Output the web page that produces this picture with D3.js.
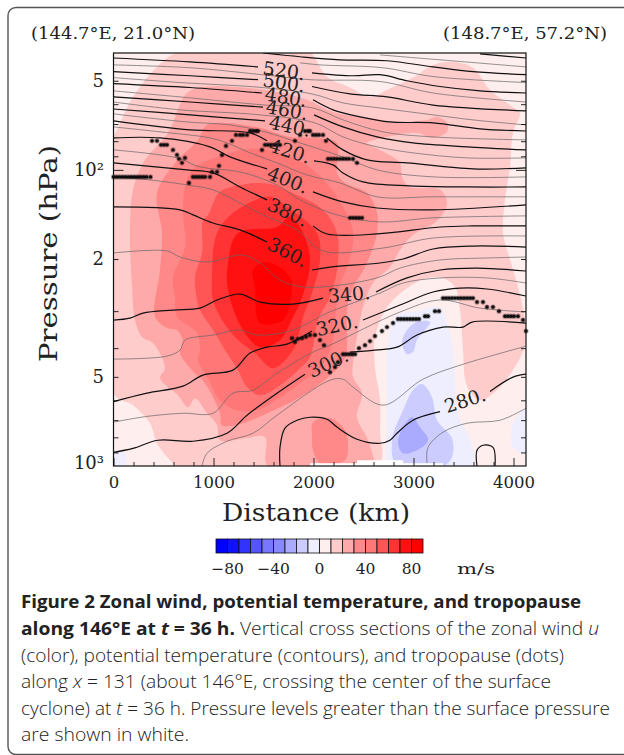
<!DOCTYPE html>
<html>
<head>
<meta charset="utf-8">
<script src="https://cdn.jsdelivr.net/npm/d3@7"></script>
<style>
body { margin: 0; background: white; }
svg { display: block; }
text { fill: #222; }
.mono { font-family: "DejaVu Serif", serif; }
.caption { font-family: "Open Sans", sans-serif; font-size: 18.5px; fill: #222; }
</style>
</head>
<body>
<div id="chart"></div>
<script>
// all points are [distance km, pressure hPa]
const colorLevels = [-90, -80, -70, -60, -50, -40, -30, -20, -10, 0, 10, 20, 30, 40, 50, 60, 70, 80, 90];
const colorCells = ["#0000ff", "#1111ff", "#3333ff", "#5555ff", "#7777ff", "#8888ff", "#aaaaff", "#ccccff", "#eeeeff",
    "#ffeeee", "#ffcccc", "#ffaaaa", "#ff8888", "#ff7777", "#ff5555", "#ff3333", "#ff1111", "#ff0000"];
const colorTicks = [-80, -40, 0, 40, 80];
const xTicks = [0, 1000, 2000, 3000, 4000];
const xMinor = [200, 400, 600, 800, 1200, 1400, 1600, 1800, 2200, 2400, 2600, 2800, 3200, 3400, 3600, 3800];
const yMinor = [50, 60, 70, 80, 90, 200, 300, 400, 500, 600, 700, 800, 900];
const yLabels = new Map([[50, "5"], [100, "10²"], [200, "2"], [500, "5"], [1000, "10³"]]);

const band10 = [[635,40.3],[435,44.9],[195,56.7],[35,73.3],[0,77.4],[0,567.6],[195,623],[365,717],[435,838],[595,978],[635,1000],[2645,1000],[2665,757],[2665,599],[2615,464],[2615,367],[2735,291],[2935,251],[3135,232],[3295,232],[3415,249],[3465,297],[3495,406],[3535,537],[3665,599],[3835,554],[3995,474],[4115,391],[4125,340],[4035,241],[3935,186],[3895,163],[3915,126],[3965,97.7],[3995,75],[4065,64.2],[3995,61.4],[3765,53.7],[3595,45.2],[3395,43.2],[3195,44.2],[2995,48.8],[2735,53.7],[2565,56.7],[2365,52.7],[2135,48.4],[1995,40.9],[1965,40.3]];
const band20 = [[735,55],[935,52.3],[1295,52.7],[1635,54.6],[1935,58],[2195,63.7],[2535,66.7],[2835,68.9],[3135,67.8],[3235,66.2],[3335,69.4],[3335,74.4],[3195,78],[3035,75],[2695,78],[2535,81.1],[2665,85.6],[2865,94.7],[2885,105.6],[2965,114.2],[3265,116.8],[3335,129.3],[3245,147.6],[2995,165.9],[2865,186.4],[2765,212.9],[2595,241],[2495,290.6],[2435,367],[2395,449],[2395,501],[2485,567.6],[2435,684.5],[2545,818.5],[2585,1000],[1545,1000],[1515,799],[1315,806],[1065,818.5],[1035,728],[935,663.5],[815,590],[745,633],[645,576.5],[465,505],[515,467.8],[395,384.6],[285,367],[215,321.5],[185,248.7],[165,163.3],[195,116.8],[315,92.5],[545,75]];
const band30 = [[435,119.5],[615,94.7],[845,79.2],[935,70.5],[1435,71.6],[1765,77.4],[1995,78],[2235,81.1],[2235,102.4],[2315,110.7],[2535,119.5],[2635,139.7],[2635,163.3],[2585,186.4],[2515,212.9],[2385,254.5],[2335,297.4],[2335,361.3],[2315,432],[2135,505],[1865,585.6],[1535,663.5],[1295,717],[1085,728],[1065,663.5],[915,525],[785,474.5],[665,415.7],[695,381],[635,347.5],[535,342],[415,313],[465,217.8],[485,163.3]];
const band30Island = [[1995,711],[2165,689],[2315,757],[2345,885],[2315,956],[2065,978],[1995,885],[1985,787]];
const band40 = [[715,114.2],[785,100],[915,93.9],[1295,85.6],[1535,85.6],[1835,92.5],[1995,100],[2165,114.2],[2295,133.4],[2385,155.9],[2395,176.5],[2335,212.9],[2265,244.9],[2215,321.5],[2185,390.7],[2065,467.8],[1865,525],[1665,585.6],[1435,648],[1235,648],[1065,599.4],[945,505],[845,439],[865,406.1],[835,355.7],[635,313],[615,268.7],[595,229.9],[715,182.2],[695,139.7]];
const band50 = [[945,141.9],[1065,118.6],[1335,111.5],[1565,111.5],[1765,118.6],[2095,136.5],[2235,163.3],[2235,217.8],[2165,268.9],[2045,321.5],[1965,429],[1865,467.8],[1695,525],[1465,576.5],[1335,541.5],[1245,474.5],[1115,406.1],[1015,355.7],[865,297.4],[835,275.1],[815,229.9],[885,190.8],[895,147.6]];
const band60 = [[985,235.4],[1035,163.3],[1235,136.5],[1565,123.3],[1735,133.4],[2035,163.3],[2065,201.5],[1985,260.5],[1895,314],[1865,347.5],[1795,406.1],[1595,467.8],[1415,415.7],[1245,375.7],[1085,321.5],[995,275.1]];
const band70 = [[1145,206.3],[1245,163.3],[1635,155.9],[1765,144.1],[1895,163.3],[1965,206.3],[1865,281.7],[1795,314],[1665,375.7],[1465,396.9],[1295,347.5],[1145,254.5]];
const band80 = [[1395,217.8],[1515,204.7],[1765,229.9],[1765,281.7],[1695,321.5],[1465,329.1],[1415,248.7]];
const bandNeg0 = [[2835,309.3],[2995,302],[3265,293],[3345,339.6],[3395,406],[3415,525],[3445,663.5],[3565,818.5],[3595,1000],[2765,1000],[2735,757],[2735,525],[2745,384.6]];
const bandNeg0Right = [[4125,638],[3995,717],[3995,865],[4125,906]];
const bandNeg0Corner = [[0,906],[115,906],[115,1000],[0,1000]];
const bandNeg10Upper = [[3165,326.6],[3035,375.7],[2995,412.5],[2935,419],[2885,384.6],[2935,347.5],[3035,326.6]];
const bandNeg10Lower = [[3085,529],[3185,585.6],[3235,700.5],[3385,806],[3385,934],[3295,1000],[2835,1000],[2785,818.5],[2895,648],[2995,554.5]];
const bandNeg20 = [[2985,684.5],[3065,739],[3145,818.5],[3035,885],[2895,906],[2845,838],[2895,739]];
const surfaceGround = [[1965,1000],[1965,978],[2435,978],[2435,956],[2895,956],[2895,978],[3295,978],[3295,1000]];

// labelled isentropes, broken where the label sits
const thick = [
    [[3665,40.6],[4125,41.9]],
    [[1495,40.3],[1865,41.5],[2265,42.5],[2735,42.8],[3195,44.9],[3595,46.6],[4125,47.7]],
    [[0,41.9],[765,43.2],[1445,44.9]],
    [[1985,47],[2395,48.1],[2665,47.7],[2935,50],[3265,52.3],[3665,54.1],[4125,55]],
    [[0,46.6],[765,48.1],[1445,49.6]],
    [[1985,52.3],[2365,55.4],[2735,56.7],[3195,60.4],[4125,63.2]],
    [[0,51.1],[765,52.7],[1485,55]],
    [[1995,58],[2195,62.7],[2465,66.2],[2765,68.9],[3195,69.4],[3665,72.7],[4125,73.9]],
    [[0,56.7],[765,59],[1495,61.4]],
    [[2005,65.2],[2295,71.6],[2635,77.4],[2995,81.1],[3535,83.6],[4125,85.6]],
    [[0,62.3],[765,65.2],[1515,68.3]],
    [[2135,78],[2295,85.6],[2535,92.5],[2935,94.7],[3595,99.2],[4125,98.4]],
    [[0,68.3],[765,73.3],[1365,75],[1535,79.8]],
    [[2005,93.2],[2195,96.2],[2295,102.4],[2495,109.8],[2965,113.3],[3535,114.2],[4125,114.2]],
    [[0,78],[465,78],[965,83.6],[1165,90.4],[1535,99.2]],
    [[1995,118.6],[2295,128.3],[2635,134.5],[3195,136.5],[4125,131.3]],
    [[0,94.7],[735,100],[995,102.4],[1265,114.2],[1535,126.3]],
    [[1995,154.6],[2135,164.6],[2635,164.6],[3265,155.9],[3595,154.6],[4125,154.6]],
    [[0,133.4],[665,136.5],[795,141.9],[995,151.1],[1265,159.5],[1535,175.1]],
    [[1985,217.8],[2165,212.9],[2665,206.3],[2895,200],[3195,185],[3595,180.8],[4125,182.2]],
    [[0,321.5],[165,316.6],[295,304.5],[595,297.4],[865,292.9],[1035,275.1],[1265,262.6],[1465,279.5],[1795,283.9],[2095,271]],
    [[2625,258.5],[2935,231.7],[3265,217.8],[3635,214.6],[4125,219.5]],
    [[0,606],[335,567.6],[695,537.5],[895,493.4],[1195,474.5],[1365,415.7],[1535,396.9],[1735,387.6],[1985,350.2]],
    [[2495,321.5],[2865,286.1],[3195,258.5],[3465,250.7],[3735,252.5],[4125,266.7]],
    [[0,899],[195,872],[445,818.5],[795,825],[1135,775],[1335,674],[1635,567.6],[1915,489.6]],
    [[2365,412.5],[2615,406.1],[2835,396.9],[3035,361.3],[3295,339.6],[3495,339.6],[3585,326.6],[4125,329.1]],
    [[1665,1000],[1665,865],[1715,745],[1835,700.5],[1965,684.5],[2135,695],[2235,739],[2435,812],[2665,838],[2765,818.5],[2835,775],[2995,700.5],[3265,655.5]],
    [[3765,560],[3995,501],[4125,489.6]],
    [[3635,1000],[3635,885],[3695,851],[3795,865],[3815,1000]]
];
const thin = [
    [[2665,40.9],[3265,42.5],[4125,44.9]],
    [[1865,43.5],[2065,44.2],[2695,45.2],[3195,48.4],[4125,50.7]],
    [[0,44.2],[765,45.2],[1485,47.7],[1965,49.6],[2665,50.3],[3195,55],[4125,59]],
    [[0,48.8],[665,50.7],[1485,52.7],[1985,55.4],[2295,59.4],[2665,61.8],[3195,65.2],[3595,67.8],[4125,70.5]],
    [[0,54.1],[665,56.7],[1515,60.4],[1995,61.8],[2295,67.8],[2695,74.4],[3195,77.4],[4125,79.2]],
    [[0,59],[665,62.7],[1465,65.2],[2015,69.4],[2295,77.4],[2635,83.6],[2995,87.6],[3535,91.1],[4125,91.1]],
    [[0,64.7],[735,68.9],[1165,70.5],[1515,74.4],[1865,81.1],[2295,90.4],[2635,100],[3195,105.6],[4125,105.6]],
    [[0,71.6],[465,74.4],[965,78],[1135,81.1],[1365,87.6],[1635,94.7],[1935,104],[2265,110.7],[2635,123.3],[3195,123.3],[4125,123.3]],
    [[0,85.6],[635,91.1],[865,97.7],[1265,101.6],[1635,112.4],[1865,126.3],[2235,141.9],[2665,149.9],[3195,145.2],[4125,143]],
    [[0,105.6],[365,108.1],[735,112.4],[995,116.8],[1265,129.3],[1495,141.9],[1835,159.5],[2095,187.8],[2695,183.6],[3195,169.9],[4125,167.2]],
    [[0,190.8],[535,187.8],[665,196.9],[935,204.7],[1295,193.8],[1465,206.3],[1665,235.4],[1895,248.7],[2265,244.9],[2665,229.9],[2865,214.6],[3265,201.5],[3735,198.4],[4125,196.9]],
    [[0,435.5],[535,425.5],[665,406.1],[715,375.7],[995,361.3],[1265,347.5],[1435,361.3],[1795,347.5],[2135,304.5],[2665,260.5],[2895,241],[3265,231.7],[3735,231.7],[4125,241]],
    [[0,711],[335,680],[695,663.5],[995,663.5],[1195,567.6],[1395,554.5],[1635,486],[1995,412.5],[2165,390.7],[2865,302],[3265,275],[3665,293],[4125,302]],
    [[885,1000],[935,906],[1135,825],[1395,775],[1635,674],[2165,513],[2295,509],[2395,541],[2695,623],[3095,509],[3465,456.7],[4125,394]],
    [[3135,978],[3145,865],[3295,769],[3535,717],[3865,700.5],[4125,638]]
];

const labelText = ["520.", "500.", "480.", "460.", "440.", "420.", "400.", "380.", "360.", "340.", "320.", "300.", "280."];
const labelKm = [1705, 1705, 1725, 1735, 1765, 1765, 1745, 1745, 1745, 2355, 2235, 2145, 3515];
const labelHpa = [46.2, 50.7, 56.7, 62.7, 71, 86.3, 108, 138.8, 189.3, 262.6, 334.3, 449, 599];
const labelAngle = [8, 8, 9, 10, 12, 18, 22, 25, 27, -5, -12, -25, -18];

const tropopause = [
    [0,105.6],[30,105.6],[60,105.6],[90,105.6],[120,105.6],[150,105.6],[180,105.6],[210,105.6],[240,105.6],[270,105.6],[300,105.6],[330,105.6],[370,105.6],
    [385,79.8],[435,79.8],[475,82.3],[505,82.3],[535,82.3],[595,85.6],[635,89],[655,91.8],[685,94.7],[715,91.1],
    [755,110.7],[795,105.6],[825,105.6],[855,105.6],[885,105.6],[915,105.6],[965,105.6],[985,101.6],[1035,101.6],[1055,96.9],[1085,89],[1125,83],[1185,79.8],
    [1225,76.2],[1265,76.2],[1295,76.2],[1335,76.2],[1365,73.9],[1395,73.9],[1425,73.9],[1445,73.9],
    [1485,85.6],[1515,82.3],[1545,82.3],[1575,82.3],[1605,82.3],[1635,82.3],[1665,82.3],
    [1815,79.8],[1865,76.2],[1915,73.9],[1945,73.9],[1965,73.9],[1995,76.2],[2025,76.2],[2055,76.2],[2095,76.2],[2125,79.8],
    [2145,91.8],[2175,91.8],[2205,91.8],[2235,91.8],[2265,91.8],[2295,91.8],[2325,91.8],[2355,91.8],[2395,91.8],[2435,94.7],
    [2365,145.2],[2395,145.2],[2425,145.2],[2455,145.2],[2485,145.2],
    [1785,370],[1815,381],[1845,372],[1885,370],[1925,366],[1965,361.3],[2015,361.3],[2065,375.7],[2105,390.7],
    [2165,482],[2215,463],[2245,446],[2295,419],[2325,419],[2355,419],[2385,419],[2415,419],[2455,400],[2515,390.7],[2565,378.6],[2615,364],[2685,350.2],[2735,339.6],[2795,329.1],
    [2845,319],[2875,319],[2905,319],[2935,319],[2965,319],[2995,319],[3025,319],[3055,319],[3115,312],[3145,312],[3215,300],[3255,300],
    [3295,271],[3325,271],[3355,271],[3385,271],[3415,271],[3445,271],[3475,271],[3505,271],[3535,271],[3565,271],[3595,271],
    [3635,279.5],[3695,279.5],[3735,290.6],[3795,290.6],[3855,300],[3915,312],[3945,312],[3975,312],[4005,312],[4045,312],[4095,321.5],[4125,350]
];

const svg = d3.select('#chart').append('svg')
    .attr('width', 624)
    .attr('height', 755);

// rounded panel border, runs off the page on the right
svg.append("rect")
    .attr("x", 8).attr("y", 7.5)
    .attr("width", 700).attr("height", 747)
    .attr("rx", 8)
    .attr("fill", "none")
    .attr("stroke", "#555")
    .attr("stroke-width", 1.4);

const xScale = d3.scaleLinear().domain([0, 4125]).range([113.5, 526]);
const yScale = d3.scaleLog().domain([1000, 40.3]).range([466, 53]);

const band = d3.line().x(d => xScale(d[0])).y(d => yScale(d[1])).curve(d3.curveCatmullRomClosed.alpha(0.5));
const contour = d3.line().x(d => xScale(d[0])).y(d => yScale(d[1])).curve(d3.curveCatmullRom.alpha(0.5));
const flat = d3.line().x(d => xScale(d[0])).y(d => yScale(d[1]));

svg.append("clipPath").attr("id", "plot-clip")
    .append("rect")
    .attr("x", xScale(0)).attr("y", yScale(40.3))
    .attr("width", xScale(4125) - xScale(0)).attr("height", yScale(1000) - yScale(40.3));

const g = svg.append("g").attr("clip-path", "url(#plot-clip)");

g.append("rect")
    .attr("x", xScale(0)).attr("y", yScale(40.3))
    .attr("width", xScale(4125) - xScale(0)).attr("height", yScale(1000) - yScale(40.3))
    .attr("fill", colorCells[9]);

const fills = [
    [band10, 10], [band20, 11], [band30, 12], [band30Island, 12], [band40, 13], [band50, 14], [band60, 15], [band70, 16], [band80, 17],
    [bandNeg0, 8], [bandNeg0Right, 8], [bandNeg0Corner, 8], [bandNeg10Upper, 7], [bandNeg10Lower, 7], [bandNeg20, 6]
];
g.selectAll(".band").data(fills).enter().append("path")
    .attr("class", "band")
    .attr("d", d => band(d[0]))
    .attr("fill", d => colorCells[d[1]]);

// below ground
g.append("path").attr("d", flat(surfaceGround)).attr("fill", "white");

g.selectAll(".thin").data(thin).enter().append("path")
    .attr("class", "thin")
    .attr("d", contour)
    .attr("fill", "none")
    .attr("stroke", "#666")
    .attr("stroke-width", 0.7);

g.selectAll(".thick").data(thick).enter().append("path")
    .attr("class", "thick")
    .attr("d", contour)
    .attr("fill", "none")
    .attr("stroke", "#111")
    .attr("stroke-width", 1.2);

// tropopause dots
svg.selectAll(".tropo").data(tropopause).enter().append("circle")
    .attr("class", "tropo")
    .attr("cx", d => xScale(d[0]))
    .attr("cy", d => yScale(d[1]))
    .attr("r", 1.7)
    .attr("fill", "#111")
    .attr("stroke", "#000")
    .attr("stroke-opacity", 0.35)
    .attr("stroke-width", 1.8);

// contour labels
svg.selectAll(".clabel").data(labelText).enter().append("text")
    .attr("class", "clabel mono")
    .attr("transform", (d, i) => `translate(${xScale(labelKm[i])},${yScale(labelHpa[i])}) rotate(${labelAngle[i]})`)
    .attr("text-anchor", "middle")
    .attr("dy", "0.36em")
    .style("font-size", "19px")
    .text(d => d);

// plot frame and axes
svg.append("rect")
    .attr("x", xScale(0)).attr("y", yScale(40.3))
    .attr("width", xScale(4125) - xScale(0)).attr("height", yScale(1000) - yScale(40.3))
    .attr("fill", "none")
    .attr("stroke", "#111")
    .attr("stroke-width", 1.2);

function styleAxis(sel) {
    sel.select(".domain").remove();
    sel.selectAll("line").attr("stroke", "#111").attr("stroke-width", 0.9);
    sel.selectAll("text").attr("class", "mono").style("font-size", "16.5px").attr("fill", "#222");
}

svg.append("g").attr("transform", `translate(0,${yScale(1000)})`)
    .call(d3.axisBottom(xScale).tickValues(xTicks).tickSize(-8).tickPadding(10).tickFormat(d3.format("d")))
    .call(styleAxis);
svg.append("g").attr("transform", `translate(0,${yScale(1000)})`)
    .call(d3.axisBottom(xScale).tickValues(xMinor).tickSize(-4).tickFormat(""))
    .call(styleAxis);

svg.append("g").attr("transform", `translate(${xScale(0)},0)`)
    .call(d3.axisLeft(yScale).tickValues([100]).tickSize(-10).tickFormat(""))
    .call(styleAxis);
svg.append("g").attr("transform", `translate(${xScale(0)},0)`)
    .call(d3.axisLeft(yScale).tickValues(yMinor).tickSize(-5).tickFormat(""))
    .call(styleAxis);
svg.append("g").attr("transform", `translate(${xScale(4125)},0)`)
    .call(d3.axisRight(yScale).tickValues([100]).tickSize(-10).tickFormat(""))
    .call(styleAxis);
svg.append("g").attr("transform", `translate(${xScale(4125)},0)`)
    .call(d3.axisRight(yScale).tickValues(yMinor).tickSize(-5).tickFormat(""))
    .call(styleAxis);

// pressure labels sit right-aligned left of the axis
svg.selectAll(".ylabel").data(Array.from(yLabels.keys())).enter().append("text")
    .attr("class", "ylabel mono")
    .attr("x", 104)
    .attr("y", d => yScale(d))
    .attr("dy", d => d === 1000 ? "0.15em" : "0.36em")
    .attr("text-anchor", "end")
    .style("font-size", "18px")
    .text(d => yLabels.get(d));

svg.append("text").attr("class", "mono")
    .attr("x", 31).attr("y", 39)
    .attr("textLength", 164)
    .attr("lengthAdjust", "spacingAndGlyphs")
    .style("font-size", "16px")
    .text("(144.7°E, 21.0°N)");
svg.append("text").attr("class", "mono")
    .attr("x", 443).attr("y", 39)
    .attr("textLength", 164)
    .attr("lengthAdjust", "spacingAndGlyphs")
    .style("font-size", "16px")
    .text("(148.7°E, 57.2°N)");

svg.append("text").attr("class", "mono")
    .attr("transform", "translate(57,362) rotate(-90)")
    .attr("textLength", 217)
    .attr("lengthAdjust", "spacingAndGlyphs")
    .style("font-size", "25px")
    .text("Pressure (hPa)");
svg.append("text").attr("class", "mono")
    .attr("x", 222).attr("y", 521)
    .attr("textLength", 188)
    .attr("lengthAdjust", "spacingAndGlyphs")
    .style("font-size", "24px")
    .text("Distance (km)");

// colour bar
const barScale = d3.scaleLinear().domain([-90, 90]).range([216, 423]);
svg.selectAll(".cell").data(colorCells).enter().append("rect")
    .attr("class", "cell")
    .attr("x", (d, i) => barScale(colorLevels[i]))
    .attr("y", 539)
    .attr("width", (d, i) => barScale(colorLevels[i + 1]) - barScale(colorLevels[i]))
    .attr("height", 14)
    .attr("fill", d => d)
    .attr("stroke", "#111")
    .attr("stroke-width", 0.8);
svg.selectAll(".barlabel").data(colorTicks).enter().append("text")
    .attr("class", "barlabel mono")
    .attr("x", d => barScale(d))
    .attr("y", 574)
    .attr("text-anchor", "middle")
    .style("font-size", "15.5px")
    .text(d => d < 0 ? "−" + Math.abs(d) : d);
svg.append("text").attr("class", "mono")
    .attr("x", 457).attr("y", 574)
    .attr("textLength", 38)
    .attr("lengthAdjust", "spacingAndGlyphs")
    .style("font-size", "14px")
    .text("m/s");

// caption
const captionLines = [
    { width: 560, parts: [["Figure 2 Zonal wind, potential temperature, and tropopause", "b"]] },
    { width: 578, parts: [["along 146°E at ", "b"], ["t", "bi"], [" = 36 h.", "b"], [" Vertical cross sections of the zonal wind ", ""], ["u", "i"]] },
    { width: 543, parts: [["(color), potential temperature (contours), and tropopause (dots)", ""]] },
    { width: 530, parts: [["along ", ""], ["x", "i"], [" = 131 (about 146°E, crossing the center of the surface", ""]] },
    { width: 589, parts: [["cyclone) at ", ""], ["t", "i"], [" = 36 h. Pressure levels greater than the surface pressure", ""]] },
    { width: 168, parts: [["are shown in white.", ""]] }
];
const captionY = [608, 635, 662, 688, 715, 741];
captionLines.forEach((line, i) => {
    const t = svg.append("text").attr("class", "caption")
        .attr("x", 21).attr("y", captionY[i])
        .attr("textLength", line.width)
        .attr("lengthAdjust", "spacingAndGlyphs")
        .attr("xml:space", "preserve");
    line.parts.forEach(p => {
        t.append("tspan")
            .style("font-weight", p[1].includes("b") ? "700" : "300")
            .style("font-style", p[1].includes("i") ? "italic" : "normal")
            .text(p[0]);
    });
});
</script>
</body>
</html>
